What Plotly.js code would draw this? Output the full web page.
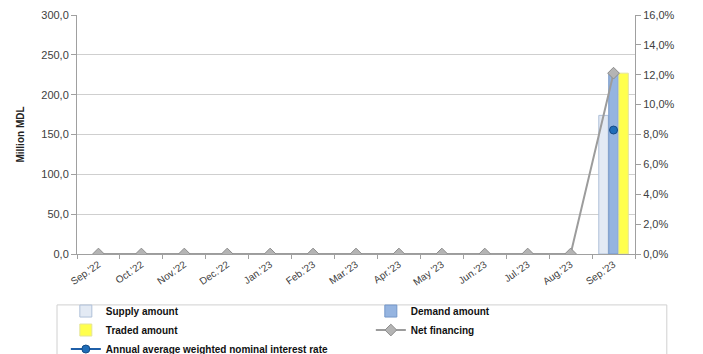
<!DOCTYPE html>
<html>
<head>
<meta charset="utf-8">
<script src="https://cdn.plot.ly/plotly-3.0.1.min.js"></script>
<style>html,body{margin:0;padding:0;background:#fff;}#chart{width:703px;height:354px;}</style>
</head>
<body>
<div id="chart"></div>
<script>
const months = ["Sep.'22","Oct.'22","Nov.'22","Dec.'22","Jan.'23","Feb.'23","Mar.'23","Apr.'23","May '23","Jun.'23","Jul.'23","Aug.'23","Sep.'23"];
const supplyAmount = [null,null,null,null,null,null,null,null,null,null,null,null,174];
const demandAmount = [null,null,null,null,null,null,null,null,null,null,null,null,227];
const tradedAmount = [null,null,null,null,null,null,null,null,null,null,null,null,227];
const netFinancing = [0,0,0,0,0,0,0,0,0,0,0,0,227];
const interestRate = [null,null,null,null,null,null,null,null,null,null,null,null,0.083];

const font = "'Liberation Sans', Arial, sans-serif";

const traces = [
  {type:'bar', name:'Supply amount', x:months, y:supplyAmount,
   marker:{color:'#E3EAF4', line:{color:'#AFC0D8', width:1}}},
  {type:'bar', name:'Demand amount', x:months, y:demandAmount,
   marker:{color:'#95B4E0', line:{color:'#7497C8', width:1}}},
  {type:'bar', name:'Traded amount', x:months, y:tradedAmount,
   marker:{color:'#FFFF4D', line:{color:'#E4E49A', width:1}}},
  {type:'scatter', mode:'lines+markers', name:'Net financing', x:months, y:netFinancing,
   line:{color:'#9C9C9C', width:2},
   marker:{symbol:'diamond', size:9, color:'#B4B4B4', line:{color:'#8C8C8C', width:1}}},
  {type:'scatter', mode:'lines+markers', name:'Annual average weighted nominal interest rate',
   x:months, y:interestRate, yaxis:'y2',
   line:{color:'#1F5FA8', width:2},
   marker:{symbol:'circle', size:8, color:'#1F6DB8', line:{color:'#154A85', width:1}}}
];

const layout = {
  width:703, height:354,
  margin:{l:77, r:68, t:15, b:100, autoexpand:false},
  paper_bgcolor:'#fff', plot_bgcolor:'#fff',
  separators:',.',
  barmode:'group', bargap:0.3, bargroupgap:0.05,
  showlegend:true,
  font:{family:font, color:'#404040', size:11},
  xaxis:{
    type:'category', tickangle:-35, tickson:'boundaries', ticks:'outside', ticklen:4,
    tickcolor:'#A0A0A0', showline:true, linecolor:'#A0A0A0', linewidth:1,
    showgrid:false, zeroline:false, tickfont:{size:10, color:'#404040', family:font},
    range:[-0.5,12.5]
  },
  yaxis:{
    range:[0,300], dtick:50, tickformat:'.1f', ticks:'outside', ticklen:5, tickcolor:'#A0A0A0',
    showline:true, linecolor:'#A0A0A0', showgrid:true, gridcolor:'#CFCFCF', zeroline:false,
    tickfont:{size:11, color:'#404040', family:font},
    title:{text:'Million MDL', font:{size:10, color:'#222', family:font, weight:'bold'}, standoff:14}
  },
  yaxis2:{
    overlaying:'y', side:'right', range:[0,0.16], dtick:0.02, tickformat:'.1%',
    ticks:'outside', ticklen:5, tickcolor:'#A0A0A0', showline:true, linecolor:'#A0A0A0',
    showgrid:false, zeroline:false, tickfont:{size:11, color:'#404040', family:font}
  },
  legend:{
    orientation:'h', x:-0.02, xanchor:'left', y:-0.178, yanchor:'top',
    entrywidth:260, traceorder:'normal', tracegroupgap:0,
    font:{size:10, color:'#111', family:font, weight:'bold'},
    bgcolor:'rgba(0,0,0,0)', borderwidth:0
  },
  shapes:[
    {type:'rect', xref:'paper', yref:'paper', x0:-0.0358, x1:1.057, y0:-0.213, y1:-0.6,
     line:{color:'#D0D0D0', width:1}, fillcolor:'rgba(0,0,0,0)', layer:'below'}
  ]
};

Plotly.newPlot('chart', traces, layout, {displayModeBar:false, staticPlot:true});
</script>
</body>
</html>
